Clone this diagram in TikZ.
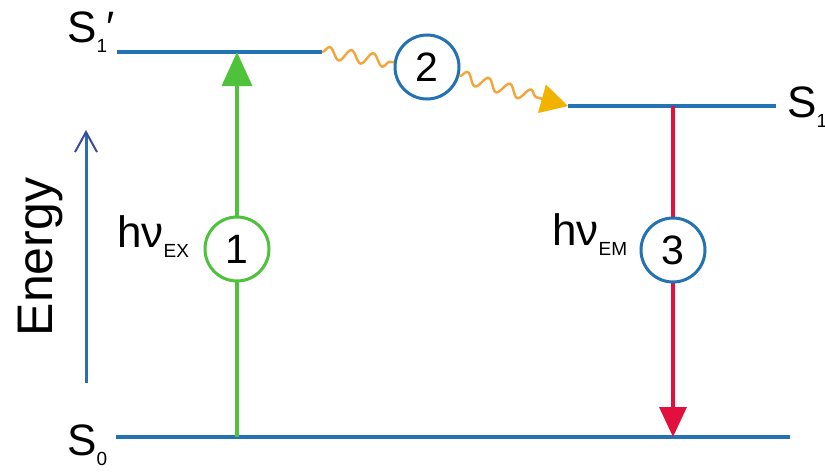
\documentclass[tikz,border=0pt]{standalone}
\usepackage{fontspec}
\setmainfont{Liberation Sans}
\usetikzlibrary{arrows.meta,decorations.pathmorphing}
\definecolor{lvlblue}{HTML}{2272B4}
\definecolor{exgreen}{HTML}{4DC23A}
\definecolor{emred}{HTML}{E2103C}
\definecolor{waveor}{HTML}{F5A43C}
\definecolor{tipgold}{HTML}{F2B300}
\definecolor{enblue}{HTML}{2A6DB5}
\definecolor{enhead}{HTML}{3C4A9C}
\newcommand\mysub[1]{\raisebox{-10pt}{\fontsize{19}{19}\selectfont #1}}
\begin{document}
\begin{tikzpicture}[x=1pt,y=-1pt,
  level/.style={lvlblue,line width=3.5pt},
  stepcircle/.style={circle,draw,line width=3pt,fill=white,minimum size=64pt,inner sep=0pt,font=\fontsize{41}{41}\selectfont},
  lbl/.style={inner sep=0pt,font=\fontsize{44}{44}\selectfont},
  wave/.style={waveor,line width=2.4pt,decorate,decoration={snake,segment length=22pt,amplitude=6pt}},
  transarrow/.style={line width=3.5pt}
]
\useasboundingbox (0,0) rectangle (825,474);
% coordinates
\coordinate (s1pL) at (117,52);
\coordinate (s1pR) at (322,52);
\coordinate (s1L) at (568,106);
\coordinate (s1R) at (776,106);
\coordinate (s0L) at (116,437);
\coordinate (s0R) at (790,437);
\coordinate (exB) at (237,437);
\coordinate (exT) at (237,52);
\coordinate (emT) at (673,106);
\coordinate (emB) at (673,437);
\coordinate (enB) at (86,383);
\coordinate (enT) at (86,130);
% levels
\draw[level] (s1pL) -- (s1pR);
\draw[level] (s1L) -- (s1R);
\draw[level] (s0L) -- (s0R);
% labels
\node[lbl,anchor=base west] (ls1p) at (67,42) {S\mysub{1}\kern-1pt′};
\node[lbl,anchor=base west] (ls1) at (787,117) {S\mysub{1}};
\node[lbl,anchor=base west] (ls0) at (67,455) {S\mysub{0}};
\node[font=\fontsize{50}{50}\selectfont,rotate=90,anchor=base,inner sep=0pt] (energy) at (52,257) {Energy};
\draw[enblue,line width=3pt,-{Straight Barb[length=20pt,width=22pt,line width=2pt,color=enhead]}] (enB) -- (enT);
% transitions
\draw[transarrow,exgreen,-{Triangle[width=30pt,length=34pt]}] (exB) -- (exT);
\draw[transarrow,emred,-{Triangle[width=27pt,length=30pt]}] (emT) -- (emB);
\node[stepcircle,draw=exgreen] (c1) at (237,249) {1};
\node[stepcircle,draw=lvlblue] (c2) at (427,67) {2};
\node[stepcircle,draw=lvlblue] (c3) at (673,250) {3};
\node[lbl,anchor=base west] (hex) at (117,247) {hν\mysub{EX}};
\node[lbl,anchor=base west] (hem) at (552,245) {hν\mysub{EM}};
% vibrational relaxation
\draw[wave] (s1pR) -- (c2);
\draw[wave,decoration={post length=26pt},-{Triangle[width=29pt,length=27pt,color=tipgold]}] (c2) -- (s1L);
\end{tikzpicture}
\end{document}
